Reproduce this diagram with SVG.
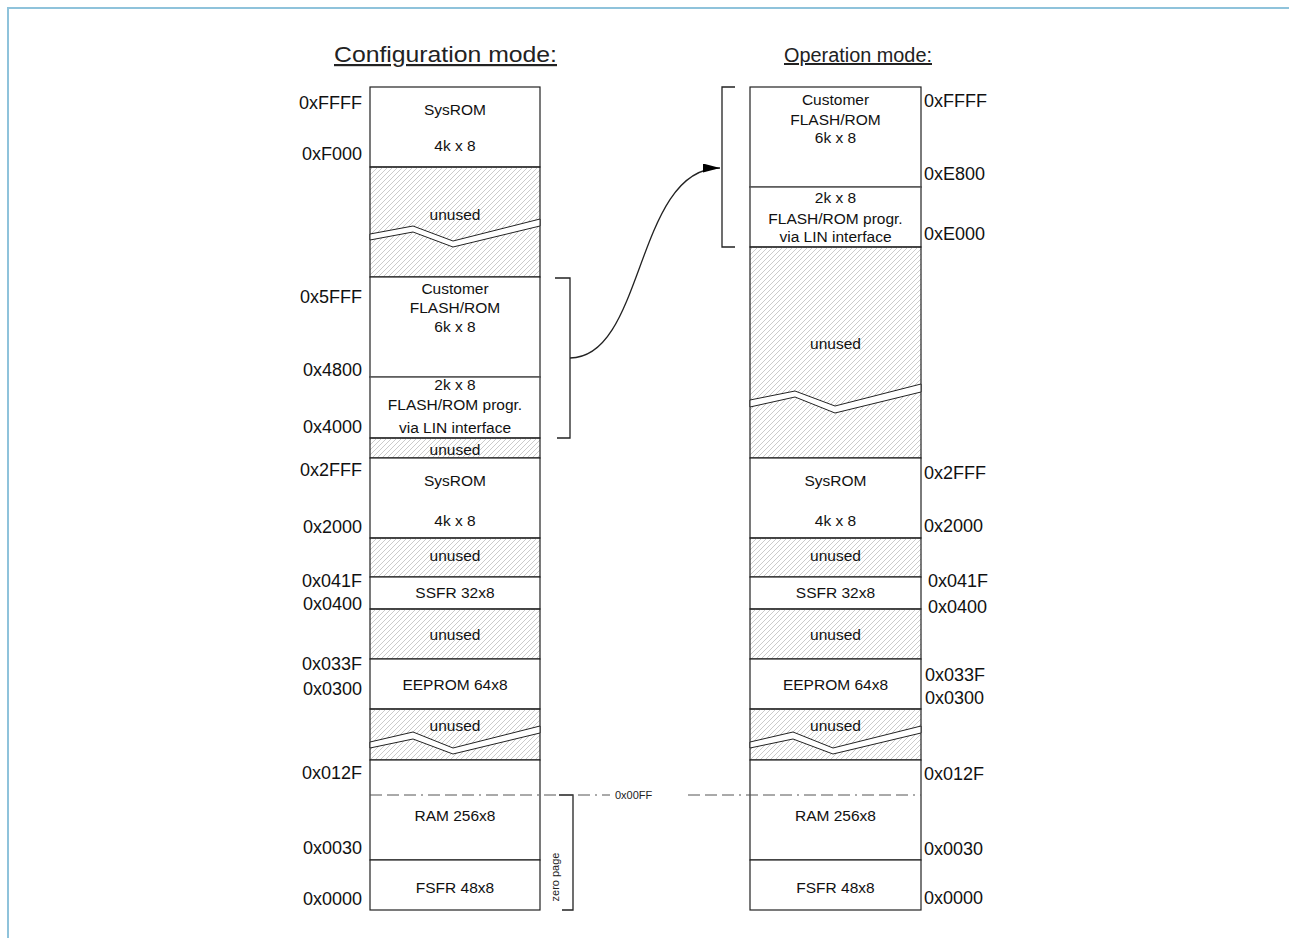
<svg xmlns="http://www.w3.org/2000/svg" width="1289" height="938" viewBox="0 0 1289 938">
<defs>
<pattern id="hatch" patternUnits="userSpaceOnUse" width="5" height="5">
<path d="M-1,1 L1,-1 M0,5 L5,0 M4,6 L6,4" stroke="#a8a8a8" stroke-width="0.6" fill="none"/>
</pattern>
<marker id="arr" markerUnits="userSpaceOnUse" markerWidth="17" markerHeight="9" refX="17" refY="4.5" orient="auto">
<path d="M0,0 L17,4.5 L0,9 z" fill="#000"/>
</marker>
</defs>
<style>
.box{fill:#fff;stroke:#222;stroke-width:1.2}
.hat{fill:url(#hatch);stroke:#222;stroke-width:1.2}
.sep{stroke:#888;stroke-width:0.8}
.t{font-family:"Liberation Sans",Arial,sans-serif;font-size:15.5px;fill:#111;text-anchor:middle}
.lbl{font-family:"Liberation Sans",Arial,sans-serif;font-size:18px;fill:#111}
.l{text-anchor:end}
.title{font-family:"Liberation Sans",Arial,sans-serif;fill:#222;text-anchor:middle;text-decoration:underline}
.brk{fill:#fff;stroke:#222;stroke-width:1}
.con{fill:none;stroke:#222;stroke-width:1.3}
.dd{fill:none;stroke:#555;stroke-width:1;stroke-dasharray:12 5 12 5 12 5 2 5}
</style>
<rect x="0" y="0" width="1289" height="938" fill="#fff"/>
<path d="M8,938 L8,8 L1289,8" fill="none" stroke="#8fc3db" stroke-width="2"/>

<g id="titles">
<text class="title" x="445.5" y="62" font-size="22" textLength="223" lengthAdjust="spacingAndGlyphs">Configuration mode:</text>
<text class="title" x="858" y="62" font-size="20" textLength="148" lengthAdjust="spacingAndGlyphs">Operation mode:</text>
</g>

<!-- Left column -->
<g id="L-sysrom-top">
<rect class="box" x="370" y="87" width="170" height="80"/>
<text class="t" x="455" y="115">SysROM</text>
<text class="t" x="455" y="151">4k x 8</text>
</g>
<g id="L-unused-1">
<rect class="hat" x="370" y="167" width="170" height="110"/>
<text class="t" x="455" y="220">unused</text>
<polygon class="brk" points="370,234 413,226 453,241 540,219 540,226 453,247 413,232 370,240"/>
</g>
<g id="L-customer">
<rect class="box" x="370" y="277" width="170" height="100"/>
<text class="t" x="455" y="294">Customer</text>
<text class="t" x="455" y="313">FLASH/ROM</text>
<text class="t" x="455" y="332">6k x 8</text>
</g>
<g id="L-2k">
<rect class="box" x="370" y="377" width="170" height="61"/>
<line class="sep" x1="370" y1="377" x2="540" y2="377"/>
<text class="t" x="455" y="390">2k x 8</text>
<text class="t" x="455" y="410">FLASH/ROM progr.</text>
<text class="t" x="455" y="433">via LIN interface</text>
</g>
<g id="L-unused-2">
<rect class="hat" x="370" y="438" width="170" height="20"/>
<text class="t" x="455" y="455">unused</text>
</g>
<g id="L-sysrom">
<rect class="box" x="370" y="458" width="170" height="80"/>
<text class="t" x="455" y="486">SysROM</text>
<text class="t" x="455" y="526">4k x 8</text>
</g>
<g id="L-unused-3">
<rect class="hat" x="370" y="538" width="170" height="39"/>
<text class="t" x="455" y="561">unused</text>
</g>
<g id="L-ssfr">
<rect class="box" x="370" y="577" width="170" height="32"/>
<text class="t" x="455" y="598">SSFR 32x8</text>
</g>
<g id="L-unused-4">
<rect class="hat" x="370" y="609" width="170" height="50"/>
<text class="t" x="455" y="640">unused</text>
</g>
<g id="L-eeprom">
<rect class="box" x="370" y="659" width="170" height="50"/>
<text class="t" x="455" y="690">EEPROM 64x8</text>
</g>
<g id="L-unused-5">
<rect class="hat" x="370" y="709" width="170" height="51"/>
<text class="t" x="455" y="731">unused</text>
<polygon class="brk" points="370,742 413,732 453,748 540,726 540,733 453,754 413,739 370,748"/>
</g>
<g id="L-ram">
<rect class="box" x="370" y="760" width="170" height="100"/>
<text class="t" x="455" y="821">RAM 256x8</text>
</g>
<g id="L-fsfr">
<rect class="box" x="370" y="860" width="170" height="50"/>
<text class="t" x="455" y="893">FSFR 48x8</text>
</g>

<!-- Right column -->
<g id="R-customer">
<rect class="box" x="750" y="87" width="171" height="100"/>
<text class="t" x="835.5" y="105">Customer</text>
<text class="t" x="835.5" y="125">FLASH/ROM</text>
<text class="t" x="835.5" y="143">6k x 8</text>
</g>
<g id="R-2k">
<rect class="box" x="750" y="187" width="171" height="60"/>
<line class="sep" x1="750" y1="187" x2="921" y2="187"/>
<text class="t" x="835.5" y="203">2k x 8</text>
<text class="t" x="835.5" y="224">FLASH/ROM progr.</text>
<text class="t" x="835.5" y="242">via LIN interface</text>
</g>
<g id="R-unused-1">
<rect class="hat" x="750" y="247" width="171" height="211"/>
<text class="t" x="835.5" y="349">unused</text>
<polygon class="brk" points="750,400 795,391 835,406 921,384 921,392 835,413 795,397 750,407"/>
</g>
<g id="R-sysrom">
<rect class="box" x="750" y="458" width="171" height="80"/>
<text class="t" x="835.5" y="486">SysROM</text>
<text class="t" x="835.5" y="526">4k x 8</text>
</g>
<g id="R-unused-3">
<rect class="hat" x="750" y="538" width="171" height="39"/>
<text class="t" x="835.5" y="561">unused</text>
</g>
<g id="R-ssfr">
<rect class="box" x="750" y="577" width="171" height="32"/>
<text class="t" x="835.5" y="598">SSFR 32x8</text>
</g>
<g id="R-unused-4">
<rect class="hat" x="750" y="609" width="171" height="50"/>
<text class="t" x="835.5" y="640">unused</text>
</g>
<g id="R-eeprom">
<rect class="box" x="750" y="659" width="171" height="50"/>
<text class="t" x="835.5" y="690">EEPROM 64x8</text>
</g>
<g id="R-unused-5">
<rect class="hat" x="750" y="709" width="171" height="51"/>
<text class="t" x="835.5" y="731">unused</text>
<polygon class="brk" points="750,742 793,732 833,748 921,726 921,733 833,754 793,739 750,748"/>
</g>
<g id="R-ram">
<rect class="box" x="750" y="760" width="171" height="100"/>
<text class="t" x="835.5" y="821">RAM 256x8</text>
</g>
<g id="R-fsfr">
<rect class="box" x="750" y="860" width="171" height="50"/>
<text class="t" x="835.5" y="893">FSFR 48x8</text>
</g>

<!-- Address labels -->
<g id="labels-left">
<text class="lbl l" x="362" y="109">0xFFFF</text>
<text class="lbl l" x="362" y="160">0xF000</text>
<text class="lbl l" x="362" y="303">0x5FFF</text>
<text class="lbl l" x="362" y="376">0x4800</text>
<text class="lbl l" x="362" y="433">0x4000</text>
<text class="lbl l" x="362" y="476">0x2FFF</text>
<text class="lbl l" x="362" y="533">0x2000</text>
<text class="lbl l" x="362" y="587">0x041F</text>
<text class="lbl l" x="362" y="610">0x0400</text>
<text class="lbl l" x="362" y="670">0x033F</text>
<text class="lbl l" x="362" y="695">0x0300</text>
<text class="lbl l" x="362" y="779">0x012F</text>
<text class="lbl l" x="362" y="854">0x0030</text>
<text class="lbl l" x="362" y="905">0x0000</text>
</g>
<g id="labels-right">
<text class="lbl" x="924" y="107">0xFFFF</text>
<text class="lbl" x="924" y="180">0xE800</text>
<text class="lbl" x="924" y="240">0xE000</text>
<text class="lbl" x="924" y="479">0x2FFF</text>
<text class="lbl" x="924" y="532">0x2000</text>
<text class="lbl" x="928" y="587">0x041F</text>
<text class="lbl" x="928" y="613">0x0400</text>
<text class="lbl" x="925" y="681">0x033F</text>
<text class="lbl" x="925" y="704">0x0300</text>
<text class="lbl" x="924" y="780">0x012F</text>
<text class="lbl" x="924" y="855">0x0030</text>
<text class="lbl" x="924" y="904">0x0000</text>
</g>

<g id="connectors">
<path class="con" d="M555,278 L570,278 L570,438 L557,438"/>
<path class="con" d="M735,87 L722,87 L722,247 L735,247"/>
<path class="con" d="M570,358 C645,358 635,168 720,168" marker-end="url(#arr)"/>
<path class="con" d="M559,795 L573,795 L573,910 L562,910"/>
<line class="dd" x1="370" y1="795" x2="610" y2="795"/>
<line class="dd" x1="688" y1="795" x2="921" y2="795"/>
<text x="615" y="799" style="font-family:'Liberation Sans',Arial,sans-serif;font-size:11px;fill:#222">0x00FF</text>
<text transform="translate(559,877) rotate(-90)" style="font-family:'Liberation Sans',Arial,sans-serif;font-size:11px;fill:#222;text-anchor:middle">zero page</text>
</g>
</svg>
